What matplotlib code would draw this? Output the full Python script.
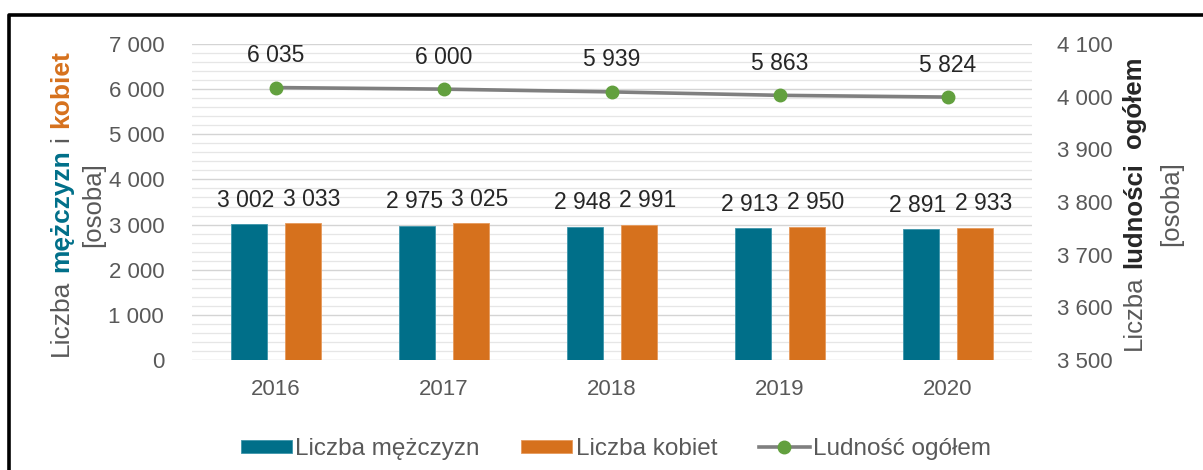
import matplotlib
matplotlib.use("Agg")
import matplotlib.pyplot as plt
import numpy as np
from matplotlib.ticker import MultipleLocator, FuncFormatter
from matplotlib.lines import Line2D

plt.rcParams['font.family'] = ['Liberation Sans', 'DejaVu Sans']

# DANE
lata = ['2016', '2017', '2018', '2019', '2020']
mezczyzni = [3002, 2975, 2948, 2913, 2891]
kobiety = [3033, 3025, 2991, 2950, 2933]
ogolem = [6035, 6000, 5939, 5863, 5824]

TEAL = '#006f89'
ORANGE = '#d6711d'
GREEN = '#62a03e'
LINE = '#7f7f7f'
GRAY = '#595959'
DARK = '#262626'

W, H = 1203, 470
fig = plt.figure(figsize=(W / 100, H / 100), dpi=100)
ax = fig.add_axes([192 / W, 1 - 360 / H, (1032 - 192) / W, (360 - 44) / H])


def fmt(v, pos=None):
    return f"{v:,.0f}".replace(",", " ")


x = np.arange(len(lata))
bw = 0.21
b1 = ax.bar(x - 0.16, mezczyzni, bw, color=TEAL, edgecolor='#3d95aa', linewidth=0.6, zorder=2)
b2 = ax.bar(x + 0.16, kobiety, bw, color=ORANGE, edgecolor='#e69a5c', linewidth=0.6, zorder=2)
ln, = ax.plot(x, ogolem, color=LINE, lw=2.6, marker='o', ms=9,
              markerfacecolor=GREEN, markeredgecolor=GREEN, zorder=3)

for xi, v in zip(x, mezczyzni):
    ax.annotate(fmt(v), (xi - 0.16, v), xytext=(-3, 24), textcoords='offset pixels',
                ha='center', va='center', fontsize=16.5, color=DARK)
for xi, v in zip(x, kobiety):
    ax.annotate(fmt(v), (xi + 0.16, v), xytext=(9, 24), textcoords='offset pixels',
                ha='center', va='center', fontsize=16.5, color=DARK)
for xi, v in zip(x, ogolem):
    ax.annotate(fmt(v), (xi, v), xytext=(0, 32), textcoords='offset pixels',
                ha='center', va='center', fontsize=16.5, color=DARK)

ax.set_xlim(-0.5, len(lata) - 0.5)
ax.set_ylim(0, 7000)
ax.yaxis.set_major_locator(MultipleLocator(1000))
ax.yaxis.set_minor_locator(MultipleLocator(200))
ax.yaxis.set_major_formatter(FuncFormatter(fmt))
ax.set_xticks(x)
ax.set_xticklabels(lata)
ax.grid(axis='y', which='major', color='#d4d4d4', lw=1.0, zorder=0)
ax.grid(axis='y', which='minor', color='#e6e6e6', lw=0.9, zorder=0)
ax.set_axisbelow(True)
ax.tick_params(axis='y', which='both', length=0, labelsize=16, labelcolor=GRAY, pad=20)
ax.tick_params(axis='x', length=0, labelsize=16, labelcolor=GRAY, pad=14)
for s in ax.spines.values():
    s.set_visible(False)

ax2 = ax.twinx()
ax2.set_ylim(3500, 4100)
ax2.yaxis.set_major_locator(MultipleLocator(100))
ax2.yaxis.set_major_formatter(FuncFormatter(fmt))
ax2.tick_params(axis='y', length=0, labelsize=16, labelcolor=GRAY, pad=18)
for s in ax2.spines.values():
    s.set_visible(False)

# LEGENDA
fig.legend([b1, b2, ln], ['Liczba mężczyzn', 'Liczba kobiet', 'Ludność ogółem'],
           loc='center', bbox_to_anchor=(616 / W, 21 / H), ncol=3, frameon=False,
           fontsize=17.5, labelcolor=GRAY, handlelength=2.1, handleheight=0.45,
           handletextpad=0.15, columnspacing=1.7)

# OPISY OSI (wielokolorowe, pionowe)
renderer = fig.canvas.get_renderer()


def dlugosc(s, size, weight):
    t = fig.text(0, 0, 'x' + s + 'x', fontsize=size, fontweight=weight)
    a = t.get_window_extent(renderer).width
    t.remove()
    t = fig.text(0, 0, 'xx', fontsize=size, fontweight=weight)
    b = t.get_window_extent(renderer).width
    t.remove()
    return a - b


def opis_pionowy(x_px, yc_px, czesci, size):
    dl = [dlugosc(s, size, w) for s, c, w in czesci]
    y = (H - yc_px) - sum(dl) / 2
    for (s, c, w), d in zip(czesci, dl):
        if s.strip():
            fig.text(x_px / W, y / H, s, rotation=90, rotation_mode='anchor',
                     ha='left', va='center', fontsize=size, color=c, fontweight=w)
        y += d


opis_pionowy(61, 203, [('Liczba', GRAY, 'normal'), (' ', GRAY, 'normal'),
                       ('mężczyzn', TEAL, 'bold'), (' ', GRAY, 'normal'),
                       ('i', GRAY, 'normal'), (' ', GRAY, 'normal'),
                       ('kobiet', ORANGE, 'bold')], 19)
opis_pionowy(93, 205, [('[osoba]', GRAY, 'normal')], 18.5)
opis_pionowy(1134, 203, [('Liczba', GRAY, 'normal'), (' ', GRAY, 'normal'),
                         ('ludności', DARK, 'bold'), ('  ', DARK, 'bold'),
                         ('ogółem', DARK, 'bold')], 18.5)
opis_pionowy(1171, 204, [('[osoba]', GRAY, 'normal')], 18.5)

# RAMKA
fig.add_artist(Line2D([9 / W, 9 / W, 1.01], [-0.01, 1 - 14.5 / H, 1 - 14.5 / H],
                      transform=fig.transFigure, color='black', lw=2.6))

fig.savefig('out.png', dpi=100)
